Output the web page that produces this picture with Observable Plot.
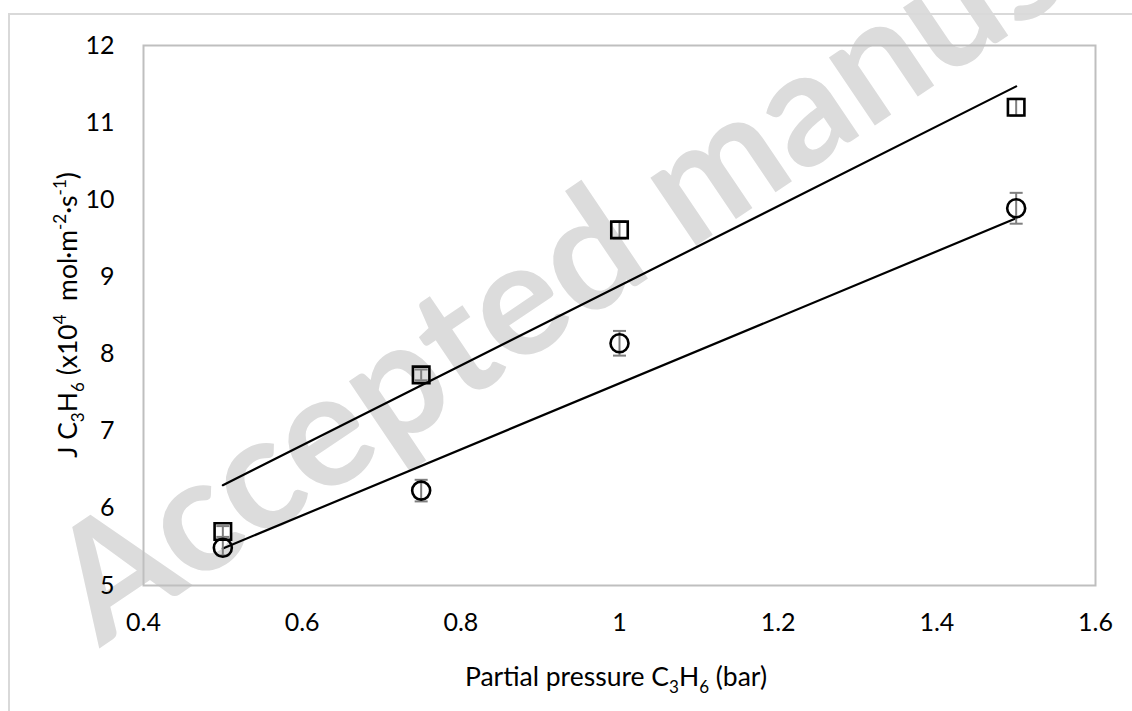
<!DOCTYPE html>
<html>
<head>
<meta charset="utf-8">
<script src="https://cdn.jsdelivr.net/npm/d3@7"></script>
<script src="https://cdn.jsdelivr.net/npm/@observablehq/plot@0.6"></script>
<style>
  html, body { margin: 0; padding: 0; background: #fff; }
  #wrap { position: relative; width: 1132px; height: 711px; overflow: hidden; }
  #wrap svg { position: absolute; left: 0; top: 0; }
  #border { position: absolute; left: 8px; top: 13px; width: 1200px; height: 800px;
            border-left: 2px solid #d9d9d9; border-top: 2px solid #d9d9d9; pointer-events: none; }
</style>
</head>
<body>
<div id="wrap"><div id="border"></div></div>
<script>
// ---- data ----
const pressure   = [0.5, 0.75, 1.0, 1.5];           // bar
const jSquare    = [5.70, 7.73, 9.61, 11.20];       // square series
const errSquare  = [0.07, 0.07, 0.11, 0.11];
const jCircle    = [5.49, 6.23, 8.14, 9.89];        // circle series
const errCircle  = [0.10, 0.14, 0.16, 0.20];
const fitPressure = [0.5, 1.5];
const fitSquare   = [6.30, 11.47];
const fitCircle   = [5.48, 9.76];
const xTicks = [0.4, 0.6, 0.8, 1.0, 1.2, 1.4, 1.6];
const yTicks = [5, 6, 7, 8, 9, 10, 11, 12];
const watermark = "Accepted manuscript";

const squares = pressure.map((p, i) => ({p, j: jSquare[i], e: errSquare[i]}));
const circles = pressure.map((p, i) => ({p, j: jCircle[i], e: errCircle[i]}));
const fitS = fitPressure.map((p, i) => ({p, j: fitSquare[i]}));
const fitC = fitPressure.map((p, i) => ({p, j: fitCircle[i]}));

const cap = {
  draw(context, size) {
    const w = Math.sqrt(size / Math.PI);
    context.moveTo(-w, 0);
    context.lineTo(w, 0);
  }
};

const FONT = "Lato, 'Open Sans', sans-serif";

const errMarks = (data) => [
  Plot.ruleX(data, {x: "p", y1: d => d.j - d.e, y2: d => d.j + d.e, stroke: "#7f7f7f", strokeWidth: 2}),
  Plot.dot(data, {x: "p", y: d => d.j + d.e, symbol: cap, r: 6.5, fill: "none", stroke: "#7f7f7f", strokeWidth: 2}),
  Plot.dot(data, {x: "p", y: d => d.j - d.e, symbol: cap, r: 6.5, fill: "none", stroke: "#7f7f7f", strokeWidth: 2})
];

const chart = Plot.plot({
  width: 1132,
  height: 711,
  marginLeft: 143,
  marginRight: 37,
  marginTop: 45,
  marginBottom: 126,
  style: {fontFamily: FONT, fontSize: "25px", color: "#000", background: "#fff"},
  x: {domain: [0.4, 1.6], ticks: xTicks, tickFormat: d => String(+d.toFixed(2)), label: null, tickSize: 0, tickPadding: 28},
  y: {domain: [5, 12], ticks: yTicks, tickFormat: d => String(d), label: null, tickSize: 0, tickPadding: 29},
  marks: [
    Plot.frame({stroke: "#bfbfbf", strokeWidth: 2}),
    Plot.line(fitS, {x: "p", y: "j", stroke: "#000", strokeWidth: 2.2}),
    Plot.line(fitC, {x: "p", y: "j", stroke: "#000", strokeWidth: 2.2}),
    ...errMarks(squares),
    ...errMarks(circles),
    Plot.dot(squares, {x: "p", y: "j", symbol: "square", r: 9.3, fill: "none", stroke: "#000", strokeWidth: 2.6}),
    Plot.dot(circles, {x: "p", y: "j", symbol: "circle", r: 9, fill: "none", stroke: "#000", strokeWidth: 2.6})
  ]
});

document.getElementById("wrap").insertBefore(chart, document.getElementById("border"));

const svg = d3.select(chart);

// watermark (behind everything)
svg.insert("text", ":first-child")
  .attr("transform", "translate(100,648) rotate(-34)")
  .attr("font-family", FONT)
  .attr("font-weight", "bold")
  .attr("font-size", 160)
  .attr("fill", "#dcdcdc")
  .attr("text-anchor", "start")
  .text(watermark);

function rich(g, parts) {
  let shift = 0;
  for (const [txt, mode] of parts) {
    const target = mode === "sub" ? 7 : mode === "sup" ? -11 : 0;
    const t = g.append("tspan").attr("dy", target - shift).text(txt);
    if (mode) t.attr("font-size", 17);
    shift = target;
  }
}

const xTitle = svg.append("text")
  .attr("x", 616).attr("y", 686)
  .attr("text-anchor", "middle")
  .attr("font-family", FONT).attr("font-size", 26.5).attr("fill", "#000");
rich(xTitle, [["Partial pressure C"], ["3", "sub"], ["H"], ["6", "sub"], [" (bar)"]]);

const yTitle = svg.append("text")
  .attr("transform", "translate(77,315) rotate(-90)")
  .attr("text-anchor", "middle")
  .style("white-space", "pre")
  .attr("font-family", FONT).attr("font-size", 26.5).attr("fill", "#000");
rich(yTitle, [["J C"], ["3", "sub"], ["H"], ["6", "sub"], [" (x10"], ["4", "sup"], ["  mol·m"], ["-2", "sup"], ["·s"], ["-1", "sup"], [")"]]);
</script>
</body>
</html>
